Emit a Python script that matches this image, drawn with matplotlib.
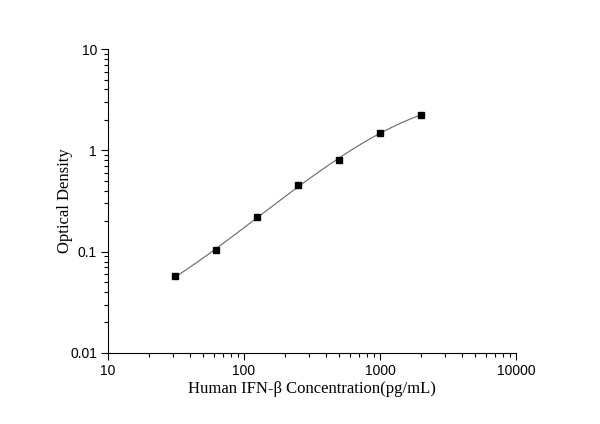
import numpy as np
import matplotlib
matplotlib.use("Agg")
import matplotlib.pyplot as plt
from matplotlib.ticker import FixedLocator, FixedFormatter, LogLocator, NullFormatter

# Standard curve data
concentration = [31.25, 62.5, 125, 250, 500, 1000, 2000]
od = [0.057, 0.104, 0.219, 0.458, 0.80, 1.50, 2.24]

x_ticks = [10, 100, 1000, 10000]
x_labels = ["10", "100", "1000", "10000"]
y_ticks = [0.01, 0.1, 1, 10]
y_labels = ["0.01", "0.1", "1", "10"]

fig = plt.figure(figsize=(6, 4.24), dpi=100)
ax = fig.add_axes([0.18, 0.1675, 0.68, 0.7165])

# smooth fit through the points in log-log space
lx = np.log10(concentration)
ly = np.log10(od)
coef = np.polyfit(lx, ly, 3)
xs = np.linspace(lx.min(), lx.max(), 200)
ax.plot(10 ** xs, 10 ** np.polyval(coef, xs), color="#666666", lw=0.8)

ax.plot(concentration, od, "s", color="black", markersize=4.6)

ax.set_xscale("log")
ax.set_yscale("log")
ax.set_xlim(10, 10000)
ax.set_ylim(0.01, 10)

ax.xaxis.set_major_locator(FixedLocator(x_ticks))
ax.xaxis.set_major_formatter(FixedFormatter(x_labels))
ax.yaxis.set_major_locator(FixedLocator(y_ticks))
ax.yaxis.set_major_formatter(FixedFormatter(y_labels))
ax.xaxis.set_minor_locator(LogLocator(base=10, subs=np.arange(2, 10)))
ax.yaxis.set_minor_locator(LogLocator(base=10, subs=np.arange(2, 10)))
ax.xaxis.set_minor_formatter(NullFormatter())
ax.yaxis.set_minor_formatter(NullFormatter())

ax.spines["top"].set_visible(False)
ax.spines["right"].set_visible(False)
ax.tick_params(which="both", direction="out", width=0.8)
ax.tick_params(which="major", length=5, pad=3)
ax.tick_params(which="minor", length=3)

for lab in ax.get_xticklabels() + ax.get_yticklabels():
    lab.set_fontfamily("Liberation Sans")
    lab.set_fontsize(10)

ax.set_xlabel("Human IFN-β Concentration(pg/mL)", fontfamily="Liberation Serif", fontsize=12, labelpad=2)
ax.set_ylabel("Optical Density", fontfamily="Liberation Serif", fontsize=12, labelpad=-2)

fig.savefig("out.png", dpi=100)
